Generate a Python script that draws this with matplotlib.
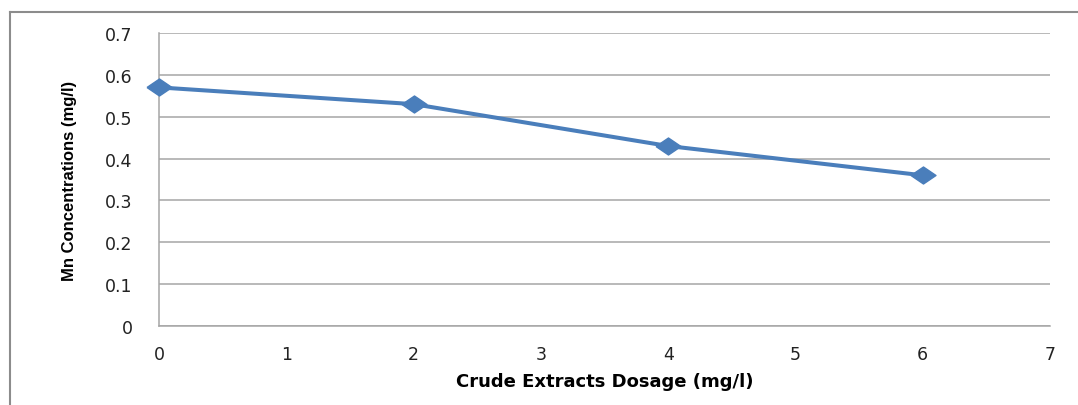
import matplotlib
matplotlib.use("Agg")
import matplotlib.pyplot as plt
from matplotlib.lines import Line2D

# dosage (mg/l) vs. residual Mn concentration (mg/l)
dosage = [0, 2, 4, 6]
mn_conc = [0.57, 0.53, 0.43, 0.36]

x_ticks = [0, 1, 2, 3, 4, 5, 6, 7]
y_ticks = [0, 0.1, 0.2, 0.3, 0.4, 0.5, 0.6, 0.7]
y_tick_labels = ["0", "0.1", "0.2", "0.3", "0.4", "0.5", "0.6", "0.7"]

line_color = "#4a7ebb"
grid_color = "#a6a6a6"

fig = plt.figure(figsize=(10.78, 4.06), dpi=100)
ax = fig.add_axes([0.1475, 0.1946, 0.8265, 0.7217])

# squat diamond marker, wider than tall
diamond = [(-1, 0), (0, 0.68), (1, 0), (0, -0.68), (-1, 0)]
ax.plot(dosage, mn_conc, color=line_color, lw=2.9, marker=diamond,
        markersize=18, markerfacecolor=line_color, markeredgecolor=line_color,
        clip_on=False, zorder=3)

ax.set_xlim(0, 7)
ax.set_ylim(0, 0.7)
ax.set_xticks(x_ticks)
ax.set_yticks(y_ticks)
ax.set_yticklabels(y_tick_labels)
ax.yaxis.grid(True, color=grid_color, lw=1.1)
ax.set_axisbelow(True)

for side in ("top", "right"):
    ax.spines[side].set_visible(False)
for side in ("left", "bottom"):
    ax.spines[side].set_color(grid_color)
    ax.spines[side].set_linewidth(1.1)

ax.tick_params(axis="both", length=0, labelsize=12.5, colors="#222222")
ax.tick_params(axis="y", pad=19)
ax.tick_params(axis="x", pad=14)

ax.set_xlabel("Crude Extracts Dosage (mg/l)", fontsize=13, fontweight="bold",
              labelpad=6)
ax.set_ylabel("Mn Concentrations (mg/l)", fontsize=12, fontweight="bold",
              family=["Liberation Sans", "DejaVu Sans"], labelpad=20)

# outer chart frame (top and left edges)
frame = dict(color="#8c8c8c", lw=1.5, transform=fig.transFigure)
fig.add_artist(Line2D([10 / 1078, 1.0], [1 - 13 / 406, 1 - 13 / 406], **frame))
fig.add_artist(Line2D([10 / 1078, 10 / 1078], [0.0, 1 - 13 / 406], **frame))

fig.savefig("out.png", dpi=100)
